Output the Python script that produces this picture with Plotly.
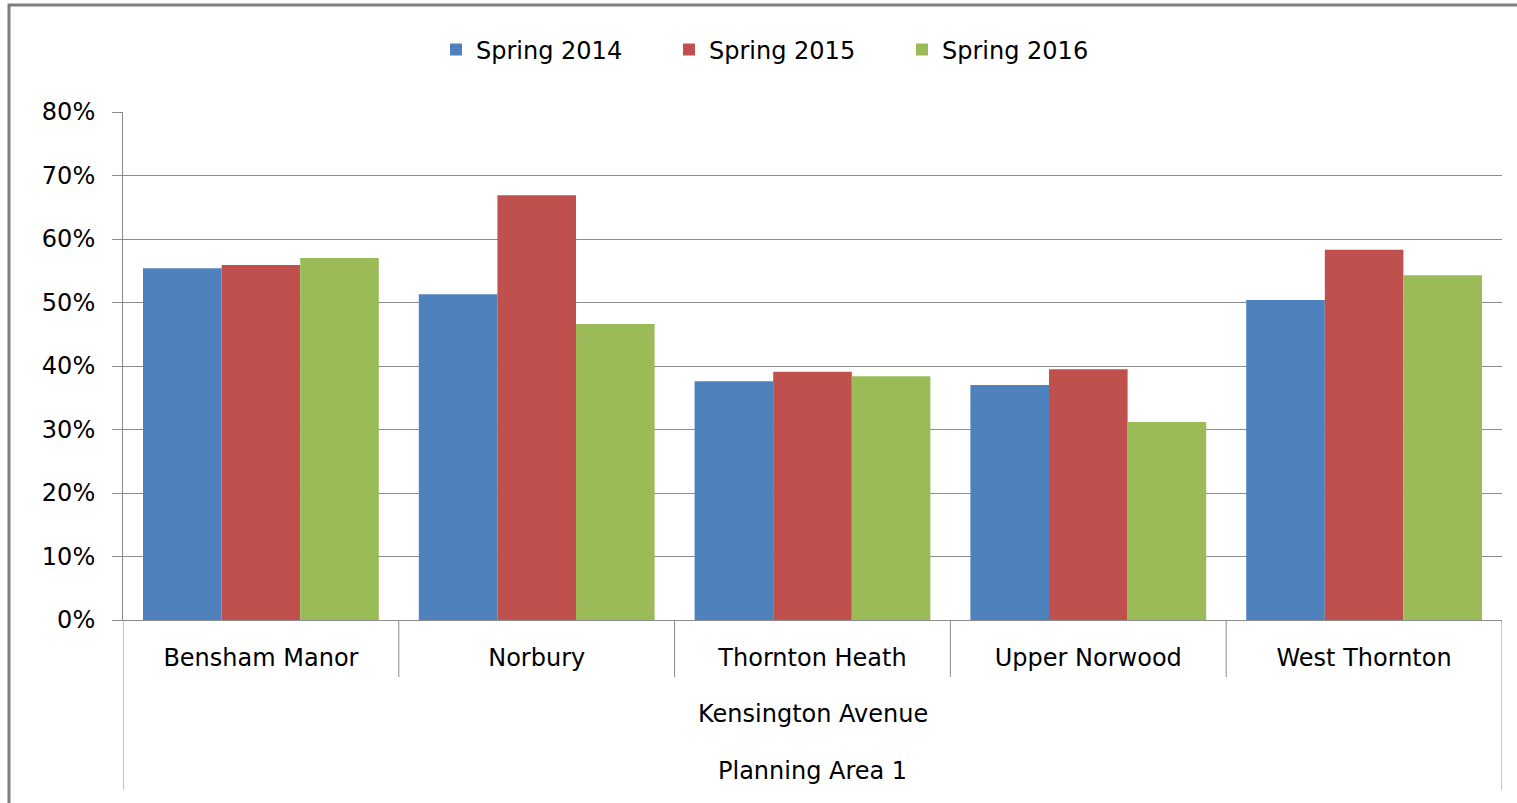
import plotly.graph_objects as go

wards = ["Bensham Manor", "Norbury", "Thornton Heath", "Upper Norwood", "West Thornton"]
series_names = ["Spring 2014", "Spring 2015", "Spring 2016"]
spring_2014 = [0.554, 0.513, 0.376, 0.370, 0.504]
spring_2015 = [0.559, 0.669, 0.391, 0.395, 0.583]
spring_2016 = [0.570, 0.466, 0.384, 0.312, 0.543]
colors = ["#4F81BD", "#C0504D", "#9BBB59"]
level2_label = "Kensington Avenue"
level3_label = "Planning Area 1"
y_ticks = [0, 0.1, 0.2, 0.3, 0.4, 0.5, 0.6, 0.7, 0.8]

FONT = "DejaVu Sans"
GRID = "#8C8C8C"

fig = go.Figure()
for name, vals, c in zip(series_names, [spring_2014, spring_2015, spring_2016], colors):
    fig.add_trace(go.Bar(x=wards, y=vals, name=name, marker=dict(color=c, line=dict(width=0))))

W, H = 1517, 803
ml, mr, mt, mb = 123, 15, 112, 183
pw = W - ml - mr
ph = H - mt - mb

shapes = []
# category separators
for i in range(len(wards) - 1):
    shapes.append(dict(type="line", xref="x", yref="paper", x0=i + 0.5, x1=i + 0.5,
                       y0=0, y1=-57 / ph, line=dict(color=GRID, width=1)))
# outer vertical lines
for xv in [-0.5, len(wards) - 0.5]:
    shapes.append(dict(type="line", xref="x", yref="paper", x0=xv, x1=xv,
                       y0=0, y1=-170 / ph, line=dict(color=GRID, width=1)))
# chart frame
shapes.append(dict(type="rect", xref="paper", yref="paper",
                   x0=(9 - ml) / pw, x1=(W + 20 - ml) / pw,
                   y0=-(H + 20 - mt - ph) / ph - 1, y1=1 + (mt - 5) / ph,
                   line=dict(color="#7F7F7F", width=3), fillcolor="rgba(0,0,0,0)", layer="below"))

annotations = [
    dict(text=level2_label, x=2, xref="x", y=-(714 - (mt + ph)) / ph, yref="paper",
         showarrow=False, font=dict(family=FONT, size=24, color="#000000"), yanchor="middle"),
    dict(text=level3_label, x=2, xref="x", y=-(771 - (mt + ph)) / ph, yref="paper",
         showarrow=False, font=dict(family=FONT, size=24, color="#000000"), yanchor="middle"),
]

fig.update_layout(
    width=W, height=H,
    margin=dict(l=ml, r=mr, t=mt, b=mb, autoexpand=False),
    paper_bgcolor="white", plot_bgcolor="white",
    barmode="group", bargap=0.145, bargroupgap=0,
    font=dict(family=FONT, size=24, color="#000000"),
    legend=dict(orientation="h", x=(436 - ml) / pw, xanchor="left",
                y=1 + (mt - 50) / ph, yanchor="middle",
                font=dict(family=FONT, size=24), itemwidth=30, tracegroupgap=0,
                entrywidth=188, entrywidthmode="pixels",
                bgcolor="rgba(0,0,0,0)"),
    showlegend=True,
    shapes=shapes,
    annotations=annotations,
)
fig.update_yaxes(range=[0, 0.8], tickvals=y_ticks, tickformat=".0%",
                 showgrid=True, gridcolor=GRID, gridwidth=1,
                 showline=True, linecolor=GRID, linewidth=1,
                 ticks="outside", ticklen=10, tickcolor=GRID, ticklabelstandoff=12,
                 zeroline=False, tickfont=dict(family=FONT, size=24, color="#000000"))
fig.update_xaxes(type="category", showline=True, linecolor=GRID, linewidth=1,
                 ticks="outside", ticklen=16, tickcolor="rgba(0,0,0,0)",
                 showgrid=False, tickfont=dict(family=FONT, size=24, color="#000000"),
                 range=[-0.5, len(wards) - 0.5])

fig.write_html("out.html", config={"displayModeBar": False},
               post_script="document.body.style.margin='0';document.body.style.overflow='hidden';")
